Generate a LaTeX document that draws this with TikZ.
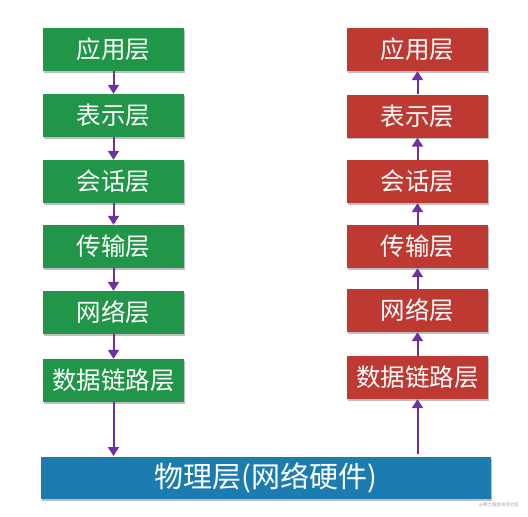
\documentclass[tikz,border=0pt]{standalone}
\usepackage{fontspec}
\newfontfamily\cjk{Noto Sans CJK SC}
\usetikzlibrary{arrows.meta,shadows}
\definecolor{layergreen}{RGB}{33,150,72}
\definecolor{layerred}{RGB}{190,57,50}
\definecolor{layerblue}{RGB}{28,124,176}
\definecolor{arrowpurple}{RGB}{112,48,160}
\tikzset{
  layerbox/.style={rectangle, minimum width=141pt, minimum height=43pt, inner sep=0pt,
    text=white, font=\cjk\fontsize{24.5}{27}\selectfont,
    drop shadow={shadow xshift=1.2pt, shadow yshift=-1.5pt, fill=black, opacity=0.25}},
  gbox/.style={layerbox, fill=layergreen},
  rbox/.style={layerbox, fill=layerred},
  physbox/.style={rectangle, minimum width=450pt, minimum height=42pt, inner sep=0pt,
    fill=layerblue, text=white, font=\cjk\fontsize{29}{32}\selectfont,
    drop shadow={shadow xshift=1.2pt, shadow yshift=-1.5pt, fill=black, opacity=0.25}},
  flow/.style={draw=arrowpurple, line width=2pt, -{Triangle[length=9pt,width=11pt]}}
}
\begin{document}
\begin{tikzpicture}[x=1pt,y=-1pt]
\useasboundingbox[fill=white] (0,0) rectangle (528,517);
% left column (green)
\node[gbox] (g1) at (113.5,49.5) {应用层};
\node[gbox] (g2) at (113.5,115.5) {表示层};
\node[gbox] (g3) at (113.5,181.5) {会话层};
\node[gbox] (g4) at (113.5,246.5) {传输层};
\node[gbox] (g5) at (113.5,312.5) {网络层};
\node[gbox] (g6) at (113.5,380.5) {数据链路层};
% right column (red)
\node[rbox] (r1) at (417.5,49.5) {应用层};
\node[rbox] (r2) at (417.5,116) {表示层};
\node[rbox] (r3) at (417.5,181.5) {会话层};
\node[rbox] (r4) at (417.5,246.5) {传输层};
\node[rbox] (r5) at (417.5,310.5) {网络层};
\node[rbox] (r6) at (417.5,377.5) {数据链路层};
% physical layer
\node[physbox] (p) at (266,478) {物理层(网络硬件)};
% arrows
\draw[flow] (g1.south) -- (g2.north);
\draw[flow] (g2.south) -- (g3.north);
\draw[flow] (g3.south) -- (g4.north);
\draw[flow] (g4.south) -- (g5.north);
\draw[flow] (g5.south) -- (g6.north);
\coordinate (pl) at (113.5,456);
\coordinate (pr) at (417.5,454);
\draw[flow] (g6.south) -- (pl);
\draw[flow] (pr) -- (r6.south);
\draw[flow] (r6.north) -- (r5.south);
\draw[flow] (r5.north) -- (r4.south);
\draw[flow] (r4.north) -- (r3.south);
\draw[flow] (r3.north) -- (r2.south);
\draw[flow] (r2.north) -- (r1.south);
% watermark
\node[text=gray!70, font=\cjk\fontsize{4.5}{5}\selectfont, inner sep=0pt] (wm) at (499,505) {@稀土掘金技术社区};
\end{tikzpicture}
\end{document}
